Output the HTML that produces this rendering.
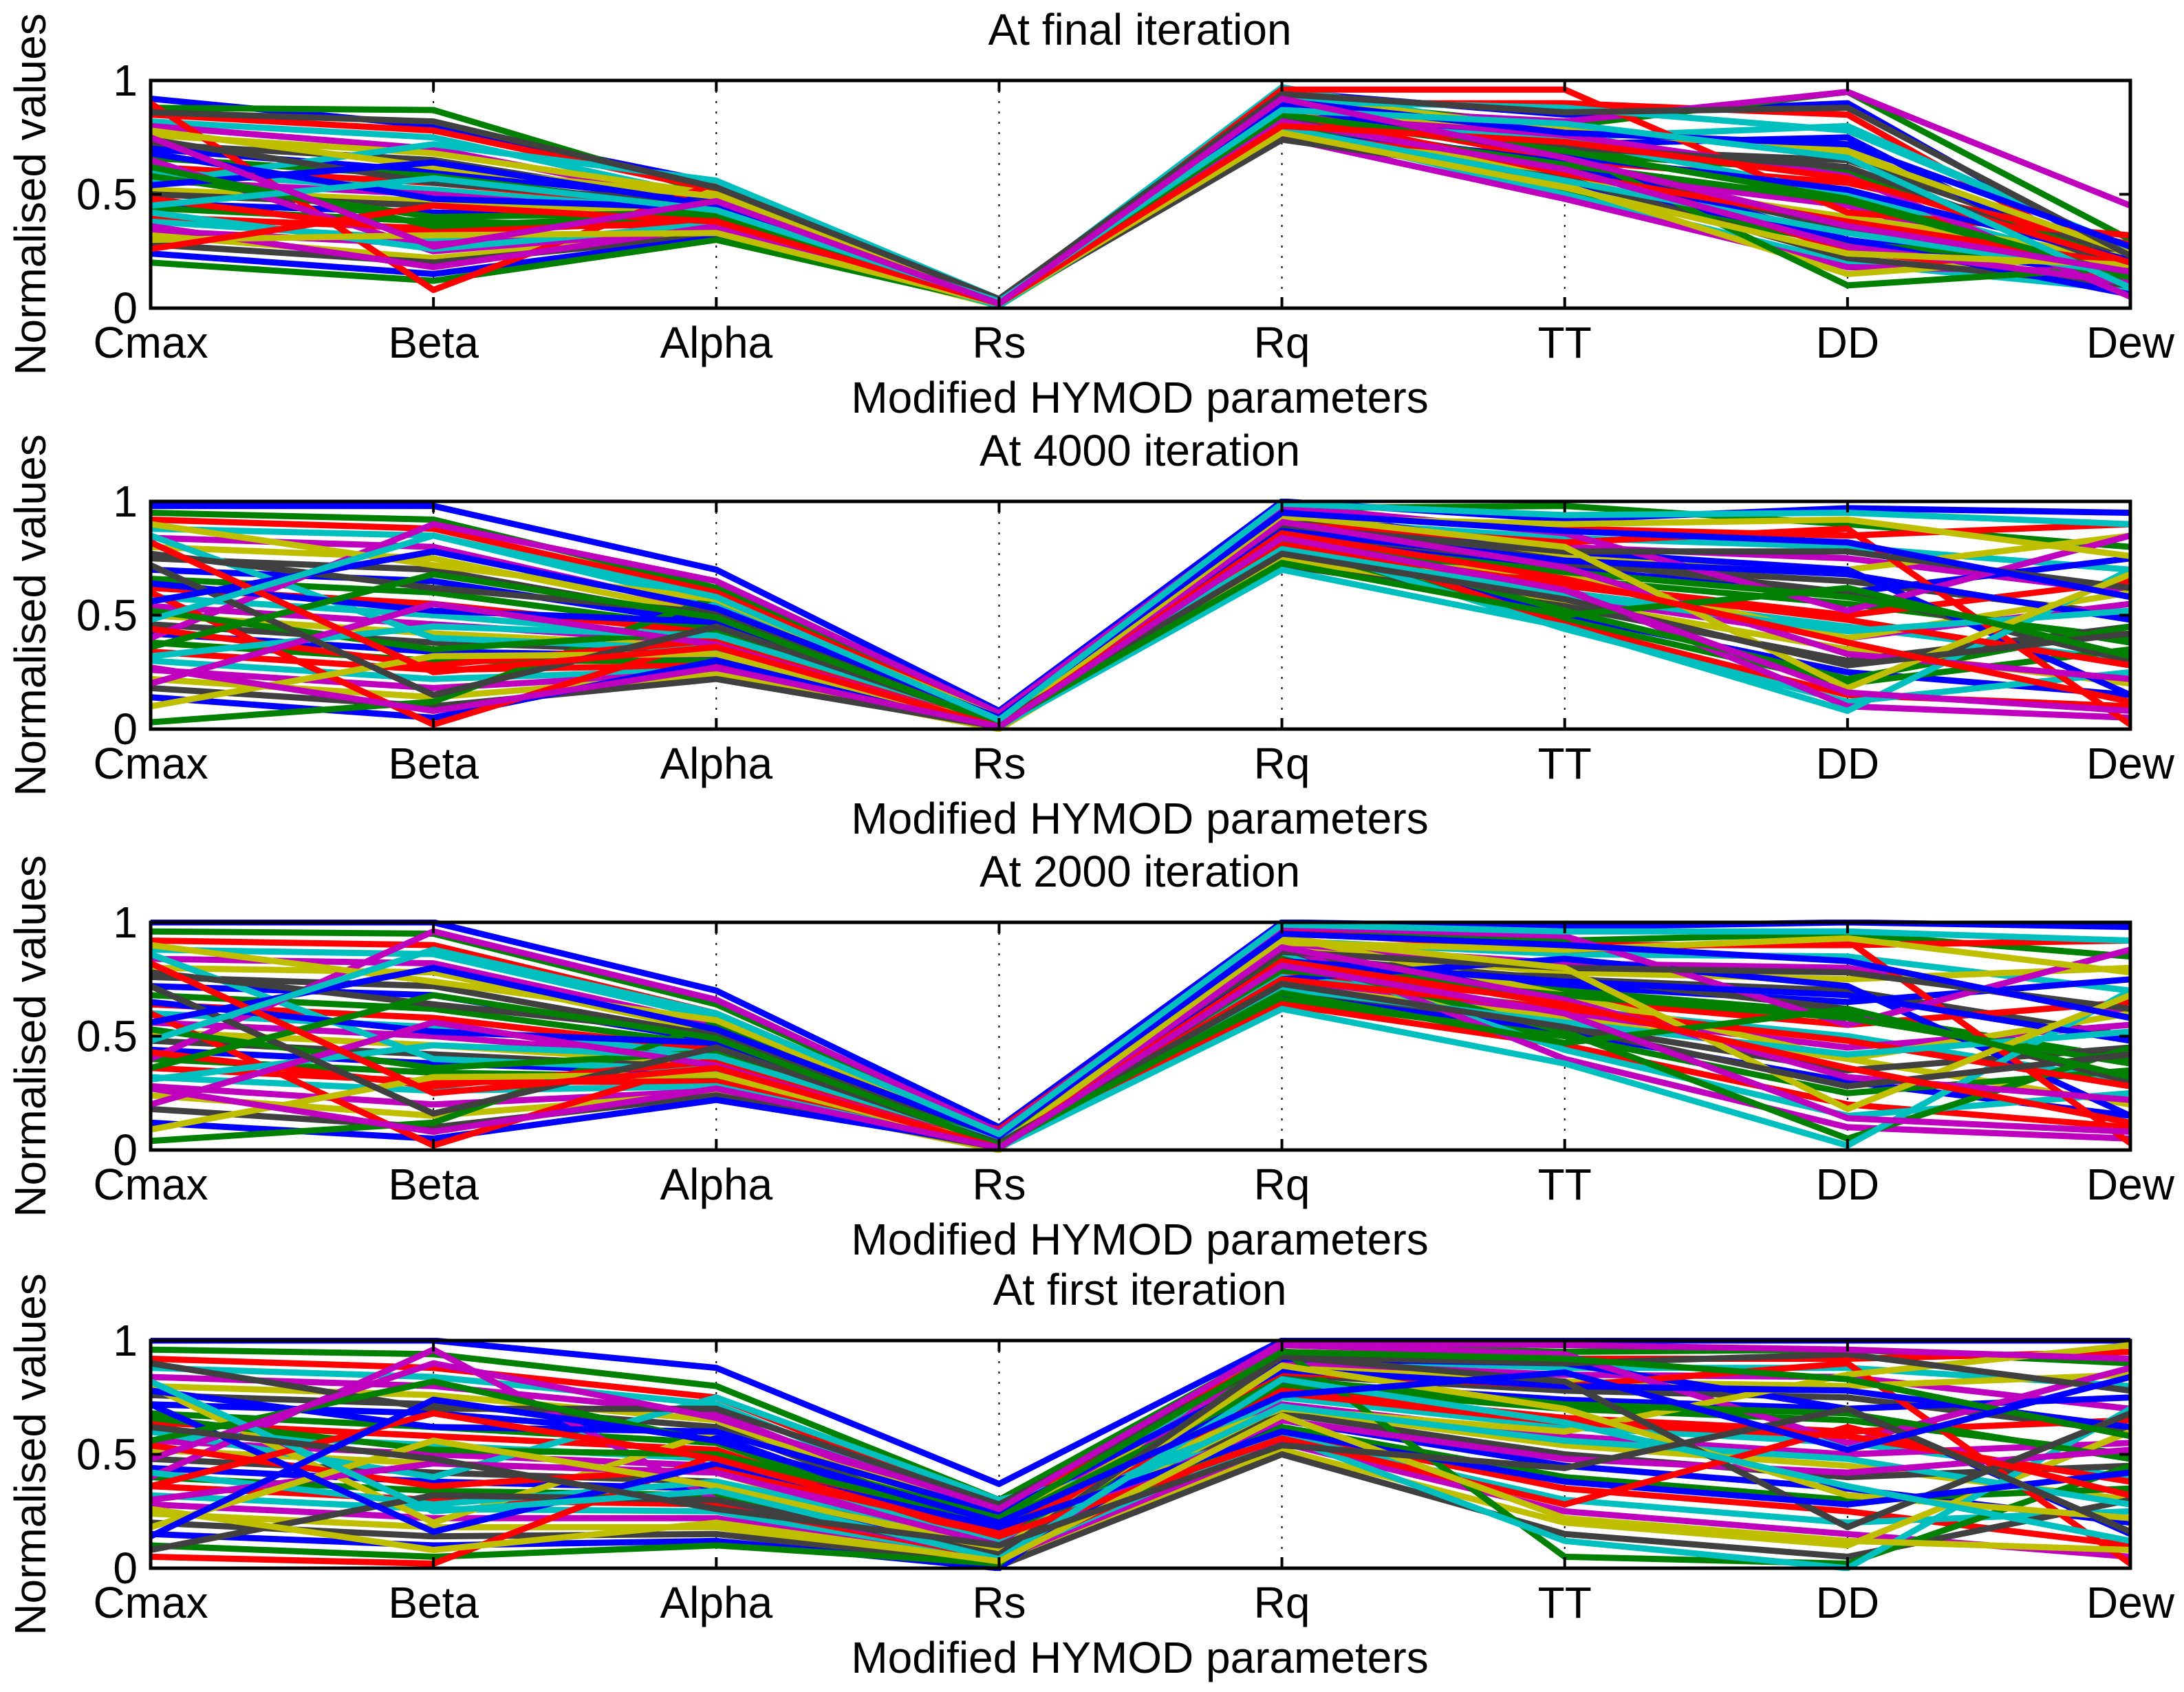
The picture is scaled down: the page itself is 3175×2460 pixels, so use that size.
<!DOCTYPE html>
<html><head><meta charset="utf-8"><style>
html,body{margin:0;padding:0;background:#fff;}
svg{display:block;font-family:"Liberation Sans",Arial,sans-serif;}
</style></head><body>
<svg id="chart" width="3175" height="2460" viewBox="0 0 3175 2460" xmlns="http://www.w3.org/2000/svg"></svg>
<script>
const categories = ["Cmax","Beta","Alpha","Rs","Rq","TT","DD","Dew"];
const yTicks = [0, 0.5, 1];
const yTickLabels = ["0","0.5","1"];
const panelTitles = ["At final iteration","At 4000 iteration","At 2000 iteration","At first iteration"];
const finalRuns = [
[0.92,0.80,0.55,0.03,0.95,0.85,0.90,0.20],[0.88,0.87,0.50,0.04,0.92,0.80,0.95,0.30],
[0.85,0.78,0.52,0.02,0.90,0.90,0.85,0.15],[0.82,0.75,0.48,0.03,0.97,0.75,0.80,0.25],
[0.80,0.70,0.46,0.02,0.88,0.82,0.95,0.45],[0.76,0.68,0.50,0.03,0.93,0.78,0.70,0.18],
[0.72,0.65,0.45,0.02,0.86,0.70,0.65,0.22],[0.70,0.60,0.47,0.04,0.90,0.72,0.75,0.12],
[0.66,0.58,0.43,0.02,0.84,0.68,0.60,0.20],[0.62,0.55,0.44,0.03,0.88,0.65,0.55,0.28],
[0.60,0.52,0.42,0.01,0.82,0.74,0.50,0.16],[0.56,0.50,0.40,0.02,0.85,0.60,0.45,0.10],
[0.52,0.47,0.41,0.03,0.80,0.58,0.40,0.22],[0.50,0.45,0.38,0.02,0.83,0.62,0.35,0.18],
[0.46,0.42,0.40,0.02,0.78,0.55,0.30,0.14],[0.44,0.38,0.36,0.01,0.81,0.52,0.28,0.20],
[0.40,0.35,0.37,0.03,0.76,0.66,0.25,0.12],[0.38,0.30,0.34,0.02,0.79,0.50,0.20,0.08],
[0.34,0.28,0.35,0.02,0.75,0.48,0.18,0.16],[0.32,0.22,0.33,0.01,0.77,0.54,0.15,0.24],
[0.28,0.20,0.32,0.02,0.74,0.57,0.22,0.10],[0.24,0.15,0.31,0.03,0.80,0.64,0.30,0.06],
[0.20,0.12,0.30,0.02,0.84,0.70,0.10,0.18],[0.90,0.08,0.55,0.01,0.96,0.96,0.42,0.32],
[0.55,0.72,0.56,0.04,0.91,0.88,0.78,0.26],[0.65,0.25,0.35,0.02,0.86,0.76,0.58,0.05],
[0.78,0.62,0.49,0.03,0.87,0.79,0.68,0.24],[0.74,0.55,0.46,0.02,0.83,0.71,0.62,0.17],
[0.68,0.48,0.44,0.03,0.89,0.67,0.52,0.21],[0.58,0.40,0.42,0.02,0.81,0.63,0.47,0.13],
[0.48,0.33,0.39,0.02,0.86,0.59,0.38,0.19],[0.42,0.26,0.37,0.01,0.79,0.56,0.33,0.15],
[0.36,0.18,0.36,0.03,0.82,0.61,0.27,0.11],[0.30,0.32,0.33,0.02,0.77,0.53,0.24,0.19],
[0.86,0.82,0.53,0.04,0.94,0.86,0.88,0.23],[0.54,0.64,0.45,0.02,0.91,0.77,0.72,0.27],
[0.62,0.36,0.41,0.03,0.85,0.69,0.48,0.14],[0.26,0.45,0.38,0.02,0.80,0.73,0.57,0.20],
[0.45,0.57,0.43,0.03,0.87,0.81,0.66,0.09],[0.75,0.27,0.47,0.02,0.92,0.66,0.36,0.16]];
const iter4000Runs = [
[0.98,0.98,0.70,0.08,1.00,0.92,0.97,0.95],[0.95,0.92,0.62,0.06,0.97,0.98,0.90,0.80],
[0.92,0.88,0.60,0.05,0.95,0.88,0.85,0.90],[0.88,0.85,0.55,0.04,0.92,0.84,0.80,0.70],
[0.84,0.80,0.52,0.03,0.90,0.80,0.75,0.60],[0.80,0.75,0.50,0.05,0.88,0.76,0.70,0.85],
[0.75,0.70,0.48,0.02,0.86,0.72,0.65,0.50],[0.70,0.65,0.46,0.04,0.84,0.70,0.60,0.75],
[0.66,0.60,0.44,0.03,0.82,0.66,0.55,0.40],[0.62,0.55,0.42,0.02,0.80,0.64,0.50,0.65],
[0.58,0.50,0.40,0.04,0.78,0.60,0.45,0.30],[0.54,0.46,0.38,0.01,0.76,0.58,0.40,0.55],
[0.50,0.42,0.36,0.03,0.74,0.56,0.35,0.20],[0.46,0.38,0.34,0.02,0.72,0.54,0.30,0.45],
[0.42,0.34,0.32,0.01,0.85,0.50,0.25,0.15],[0.38,0.30,0.30,0.03,0.80,0.48,0.20,0.35],
[0.34,0.26,0.28,0.02,0.88,0.46,0.15,0.10],[0.30,0.22,0.26,0.01,0.83,0.44,0.12,0.25],
[0.26,0.18,0.25,0.02,0.78,0.62,0.10,0.05],[0.22,0.14,0.24,0.00,0.75,0.68,0.40,0.60],
[0.18,0.10,0.22,0.01,0.92,0.74,0.60,0.30],[0.14,0.05,0.30,0.02,0.96,0.78,0.70,0.15],
[0.03,0.12,0.58,0.03,0.86,0.52,0.22,0.45],[0.60,0.02,0.40,0.06,0.90,0.82,0.88,0.02],
[0.85,0.40,0.35,0.01,0.70,0.45,0.08,0.70],[0.40,0.90,0.65,0.07,0.98,0.86,0.52,0.85],
[0.90,0.72,0.57,0.05,0.93,0.90,0.92,0.76],[0.77,0.62,0.51,0.03,0.89,0.78,0.78,0.62],
[0.64,0.52,0.47,0.02,0.87,0.74,0.68,0.48],[0.52,0.35,0.43,0.03,0.83,0.69,0.58,0.38],
[0.44,0.28,0.39,0.02,0.81,0.63,0.48,0.28],[0.32,0.45,0.41,0.04,0.79,0.59,0.43,0.52],
[0.20,0.55,0.37,0.01,0.91,0.71,0.33,0.22],[0.10,0.32,0.33,0.02,0.94,0.80,0.18,0.68],
[0.72,0.15,0.45,0.03,0.77,0.57,0.28,0.42],[0.56,0.78,0.53,0.05,0.95,0.87,0.82,0.58],
[0.36,0.68,0.49,0.02,0.73,0.50,0.62,0.32],[0.82,0.25,0.36,0.01,0.86,0.66,0.38,0.12],
[0.48,0.85,0.58,0.04,0.99,0.94,0.95,0.90],[0.27,0.08,0.27,0.01,0.84,0.61,0.16,0.08]];
const iter2000Runs = [
[1.00,1.00,0.70,0.10,1.00,0.98,1.00,0.98],[0.96,0.95,0.64,0.08,0.97,0.92,0.95,0.85],
[0.92,0.90,0.60,0.07,0.95,0.90,0.90,0.92],[0.88,0.86,0.58,0.06,0.92,0.86,0.85,0.70],
[0.84,0.82,0.55,0.05,0.90,0.82,0.80,0.60],[0.80,0.78,0.52,0.04,0.88,0.78,0.75,0.80],
[0.76,0.72,0.50,0.06,0.85,0.75,0.70,0.50],[0.72,0.68,0.48,0.03,0.82,0.72,0.65,0.75],
[0.68,0.62,0.46,0.05,0.80,0.70,0.60,0.40],[0.64,0.58,0.44,0.02,0.78,0.66,0.55,0.65],
[0.60,0.54,0.42,0.04,0.76,0.62,0.50,0.30],[0.56,0.50,0.40,0.01,0.74,0.60,0.45,0.55],
[0.52,0.46,0.38,0.03,0.72,0.58,0.40,0.20],[0.48,0.42,0.36,0.02,0.70,0.55,0.35,0.45],
[0.44,0.38,0.34,0.01,0.68,0.52,0.30,0.15],[0.40,0.34,0.32,0.03,0.66,0.50,0.25,0.35],
[0.36,0.30,0.30,0.02,0.64,0.46,0.20,0.10],[0.32,0.26,0.28,0.01,0.86,0.44,0.15,0.25],
[0.28,0.20,0.26,0.02,0.90,0.40,0.10,0.05],[0.24,0.15,0.25,0.00,0.94,0.68,0.40,0.60],
[0.18,0.10,0.24,0.01,0.80,0.76,0.62,0.30],[0.12,0.05,0.22,0.02,0.75,0.84,0.72,0.15],
[0.04,0.12,0.56,0.03,0.84,0.52,0.05,0.45],[0.60,0.02,0.40,0.09,0.96,0.88,0.92,0.03],
[0.86,0.40,0.35,0.01,0.62,0.38,0.02,0.70],[0.40,0.96,0.66,0.08,0.98,0.94,0.55,0.88],
[0.90,0.74,0.57,0.06,0.91,0.88,0.93,0.78],[0.78,0.64,0.51,0.04,0.87,0.80,0.78,0.62],
[0.65,0.52,0.47,0.03,0.83,0.74,0.68,0.48],[0.53,0.36,0.43,0.05,0.79,0.68,0.58,0.38],
[0.43,0.28,0.39,0.02,0.75,0.62,0.48,0.28],[0.31,0.46,0.41,0.04,0.71,0.56,0.42,0.52],
[0.20,0.56,0.37,0.01,0.89,0.66,0.32,0.22],[0.09,0.32,0.33,0.02,0.93,0.80,0.18,0.68],
[0.72,0.16,0.45,0.03,0.73,0.54,0.28,0.42],[0.56,0.80,0.53,0.06,0.95,0.90,0.83,0.58],
[0.36,0.68,0.49,0.02,0.69,0.47,0.62,0.32],[0.82,0.25,0.36,0.01,0.83,0.64,0.36,0.12],
[0.48,0.88,0.60,0.07,0.99,0.96,0.96,0.92],[0.27,0.08,0.27,0.01,0.81,0.60,0.14,0.08]];
const firstRuns = [
[1.00,1.00,0.88,0.37,1.00,1.00,1.00,1.00],[0.96,0.94,0.80,0.30,0.98,0.95,0.96,0.90],
[0.92,0.88,0.75,0.26,0.95,0.92,0.92,0.95],[0.88,0.84,0.72,0.22,0.92,0.88,0.88,0.80],
[0.84,0.80,0.68,0.20,0.90,0.85,0.84,0.70],[0.80,0.76,0.65,0.18,0.88,0.82,0.80,0.85],
[0.76,0.72,0.62,0.16,0.85,0.78,0.75,0.60],[0.72,0.68,0.58,0.14,0.82,0.74,0.70,0.75],
[0.68,0.62,0.55,0.12,0.80,0.70,0.65,0.50],[0.64,0.58,0.52,0.10,0.78,0.66,0.60,0.65],
[0.60,0.54,0.48,0.09,0.75,0.62,0.55,0.40],[0.56,0.50,0.45,0.08,0.72,0.58,0.50,0.55],
[0.52,0.46,0.42,0.07,0.70,0.54,0.45,0.30],[0.48,0.42,0.38,0.06,0.68,0.50,0.40,0.45],
[0.44,0.38,0.35,0.05,0.65,0.45,0.35,0.20],[0.40,0.34,0.32,0.04,0.62,0.40,0.30,0.35],
[0.36,0.30,0.28,0.03,0.60,0.35,0.25,0.10],[0.32,0.26,0.25,0.02,0.58,0.30,0.20,0.25],
[0.28,0.22,0.22,0.02,0.55,0.25,0.15,0.05],[0.24,0.18,0.18,0.01,0.52,0.20,0.10,0.60],
[0.20,0.14,0.15,0.01,0.50,0.15,0.05,0.30],[0.15,0.10,0.12,0.00,0.92,0.90,0.70,0.15],
[0.10,0.05,0.10,0.02,0.96,0.05,0.02,0.45],[0.05,0.02,0.50,0.15,0.86,0.80,0.90,0.02],
[0.60,0.40,0.75,0.30,0.58,0.12,0.00,0.70],[0.40,0.96,0.30,0.05,0.98,0.94,0.55,0.88],
[0.80,0.20,0.60,0.25,0.70,0.60,0.85,0.98],
[0.90,0.70,0.70,0.28,0.93,0.90,0.94,0.78],[0.78,0.62,0.60,0.24,0.87,0.80,0.78,0.62],
[0.66,0.52,0.50,0.20,0.83,0.72,0.68,0.48],[0.54,0.36,0.44,0.16,0.77,0.64,0.58,0.38],
[0.42,0.28,0.38,0.12,0.71,0.56,0.48,0.28],[0.30,0.46,0.42,0.10,0.65,0.48,0.42,0.52],
[0.18,0.56,0.36,0.08,0.89,0.70,0.32,0.22],[0.08,0.32,0.30,0.06,0.93,0.82,0.18,0.68],
[0.72,0.16,0.46,0.18,0.60,0.38,0.28,0.42],[0.56,0.82,0.55,0.22,0.95,0.92,0.83,0.58],
[0.36,0.68,0.48,0.14,0.57,0.28,0.62,0.32],[0.82,0.25,0.34,0.04,0.83,0.64,0.36,0.12],
[0.48,0.90,0.66,0.26,0.99,0.98,0.96,0.92],[0.26,0.08,0.20,0.03,0.67,0.22,0.12,0.08],
[0.62,0.48,0.26,0.10,0.54,0.44,0.70,0.16],[0.14,0.74,0.56,0.20,0.76,0.86,0.52,0.84]];
const allRuns = [finalRuns, iter4000Runs, iter2000Runs, firstRuns];
const seriesColors = ["#0000ff","#008000","#ff0000","#00bfbf","#bf00bf","#bfbf00","#404040"];

const NS = "http://www.w3.org/2000/svg";
const svg = document.getElementById("chart");
const L = 219, R = 3097, H = 331;
const panelTops = [117, 729, 1341, 1949];
const FS = 64;
function mk(tag, attrs, parent){ const e=document.createElementNS(NS,tag); for(const k in attrs) e.setAttribute(k,attrs[k]); parent.appendChild(e); return e; }
function xScale(i){ return L + i*(R-L)/(categories.length-1); }

panelTops.forEach((top, p) => {
  const yScale = v => top + H - v*H;
  const g = mk("g", {}, svg);
  
  
  const clipId = "clip"+p;
  const cp = mk("clipPath", {id:clipId}, g);
  mk("rect", {x:L, y:top-4, width:R-L, height:H+8}, cp);
  for (let i=1;i<categories.length-1;i++){
    const dl = mk("line", {x1:xScale(i), x2:xScale(i), y1:top, y2:top+H, stroke:"#000", "stroke-width":2, "stroke-dasharray":"3,12"}, g);
    
    
  }
  const lg = mk("g", {"clip-path":"url(#"+clipId+")"}, g);
  
  
  allRuns[p].forEach((run, r) => {
    const pts = run.map((v,i)=>xScale(i).toFixed(1)+","+yScale(v).toFixed(1)).join(" ");
    const pl = mk("polyline", {points:pts, fill:"none", stroke:seriesColors[r%seriesColors.length], "stroke-width":9, "stroke-linejoin":"round"}, lg);
    
    
  });
  const fr = mk("rect", {x:L, y:top, width:R-L, height:H, fill:"none", stroke:"#000", "stroke-width":5}, g);
  
  
  categories.forEach((c,i)=>{
    const x = xScale(i);
    mk("line", {x1:x,x2:x,y1:top,y2:top+16,stroke:"#000","stroke-width":4}, g);
    mk("line", {x1:x,x2:x,y1:top+H,y2:top+H-16,stroke:"#000","stroke-width":4}, g);
    const t = mk("text", {x:x, y:top+H+72, "font-size":FS, "text-anchor":"middle"}, g);
    t.textContent = c;
    
    
  });
  yTicks.forEach((v,k)=>{
    const y = yScale(v);
    mk("line", {x1:L,x2:L+16,y1:y,y2:y,stroke:"#000","stroke-width":4}, g);
    mk("line", {x1:R,x2:R-16,y1:y,y2:y,stroke:"#000","stroke-width":4}, g);
    const t = mk("text", {x:200, y:y+22, "font-size":FS, "text-anchor":"end"}, g);
    t.textContent = yTickLabels[k];
    
    
  });
  const title = mk("text", {x:1657, y:top-52, "font-size":FS, "text-anchor":"middle"}, g);
  title.textContent = panelTitles[p];
  
  
  const xl = mk("text", {x:1657, y:top+H+152, "font-size":FS, "text-anchor":"middle"}, g);
  xl.textContent = "Modified HYMOD parameters";
  
  
  const cy = top + H/2;
  const yl = mk("text", {x:0, y:0, "font-size":FS, "text-anchor":"middle", transform:"translate(66,"+cy+") rotate(-90)"}, g);
  yl.textContent = "Normalised values";
  
  
});
</script>
</body></html>
